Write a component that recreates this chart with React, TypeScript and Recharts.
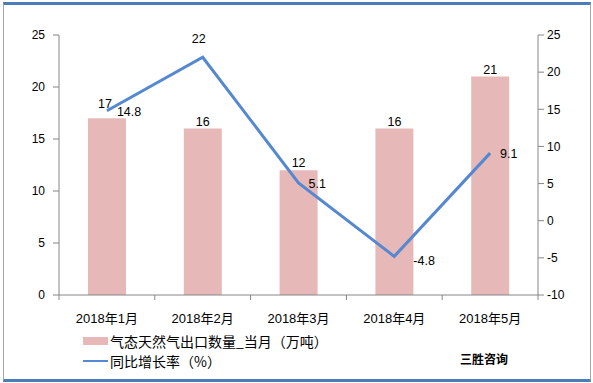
import React from 'react';
import { ComposedChart, Bar, Line, XAxis, YAxis, Legend, LabelList } from 'recharts';

const categories = ['2018年1月', '2018年2月', '2018年3月', '2018年4月', '2018年5月'];
const exportVolume = [17, 16, 12, 16, 21];
const yoyGrowth = [14.8, 22, 5.1, -4.8, 9.1];
const leftTicks = [0, 5, 10, 15, 20, 25];
const rightTicks = [-10, -5, 0, 5, 10, 15, 20, 25];
const seriesNames = ['气态天然气出口数量_当月（万吨）', '同比增长率（%）'];
const brandText = '三胜咨询';

const data = categories.map((c, i) => ({ name: c, volume: exportVolume[i], growth: yoyGrowth[i] }));

const W = 593;
const H = 383;
const LEFT_W = 59;
const RIGHT_W = 55;
const BAR_COLOR = '#E6B9B8';
const LINE_COLOR = '#5588D0';
const AXIS_COLOR = '#868686';
const NUM_FONT = "'Liberation Sans', Arial, sans-serif";
const CJK_FONT = "'Liberation Sans', 'Noto Sans CJK SC', sans-serif";
const BAND = (W - LEFT_W - RIGHT_W) / categories.length;

// label placement styles (style, not data)
const LINE_LABEL_POS = ['right', 'top', 'right', 'rightLow', 'right'];
const BAR_LABEL_LIFT = ['lifted', 'normal', 'normal', 'normal', 'normal'];

const XTick = (props: any) => {
  const { x, y, payload } = props;
  const idx = payload.index;
  return (
    <g>
      {idx === 0 && <line x1={x - BAND / 2} y1={y} x2={x - BAND / 2} y2={y + 5} stroke={AXIS_COLOR} />}
      <line x1={x + BAND / 2} y1={y} x2={x + BAND / 2} y2={y + 5} stroke={AXIS_COLOR} />
      <text x={x} y={y + 23} textAnchor="middle" dominantBaseline="central" fontSize={13} fontFamily={CJK_FONT} fill="#000">
        {payload.value}
      </text>
    </g>
  );
};

const BarLabel = (props: any) => {
  const { x, y, width, value, index } = props;
  const lifted = BAR_LABEL_LIFT[index] === 'lifted';
  const cx = x + width / 2 + (lifted ? -2 : 0);
  const cy = y - (lifted ? 14 : 7);
  return (
    <text x={cx} y={cy} textAnchor="middle" dominantBaseline="central" fontSize={12.5} fontFamily={NUM_FONT} fill="#000">
      {value}
    </text>
  );
};

const LineLabel = (props: any) => {
  const { x, y, value, index } = props;
  const pos = LINE_LABEL_POS[index];
  let tx = x + 10;
  let ty = y + 1;
  let anchor: any = 'start';
  if (pos === 'top') {
    tx = x - 4;
    ty = y - 18;
    anchor = 'middle';
  } else if (pos === 'rightLow') {
    tx = x + 19;
    ty = y + 5;
  }
  return (
    <text x={tx} y={ty} textAnchor={anchor} dominantBaseline="central" fontSize={12.5} fontFamily={NUM_FONT} fill="#000">
      {value}
    </text>
  );
};

const LegendContent = () => (
  <div style={{ height: 40, fontFamily: "'Noto Sans CJK SC', sans-serif", fontSize: 14, color: '#000' }}>
    <div style={{ display: 'flex', alignItems: 'center', height: 20 }}>
      <div style={{ width: 25, height: 8, background: BAR_COLOR, marginRight: 2 }} />
      <span style={{ lineHeight: '20px' }}>{seriesNames[0]}</span>
    </div>
    <div style={{ display: 'flex', alignItems: 'center', height: 20 }}>
      <div style={{ width: 25, height: 2, background: LINE_COLOR, marginRight: 2 }} />
      <span style={{ lineHeight: '20px' }}>{seriesNames[1]}</span>
    </div>
  </div>
);

export default function App() {
  return (
    <div style={{ position: 'absolute', left: 0, top: 0, width: W, height: H, background: '#fff' }}>
      <div
        style={{
          position: 'absolute',
          left: 3,
          top: 2,
          width: 586,
          height: 374,
          borderLeft: '1px solid #a6a6a6',
          borderRight: '1px solid #a6a6a6',
          borderTop: '3px solid #4A7EBB',
          borderBottom: '3px solid #4A7EBB',
        }}
      />
      <ComposedChart width={W} height={H} data={data} margin={{ top: 35, right: 0, bottom: 12, left: 0 }}>
        <XAxis
          dataKey="name"
          xAxisId="x"
          height={36}
          axisLine={{ stroke: AXIS_COLOR }}
          tickLine={false}
          tickSize={0}
          tickMargin={0}
          tick={<XTick />}
          interval={0}
        />
        <YAxis
          yAxisId="left"
          orientation="left"
          width={LEFT_W}
          domain={[0, 25]}
          ticks={leftTicks}
          axisLine={{ stroke: AXIS_COLOR }}
          tickLine={{ stroke: AXIS_COLOR }}
          tickSize={6}
          tickMargin={8}
          tick={{ fill: '#000', fontSize: 12, fontFamily: NUM_FONT }}
        />
        <YAxis
          yAxisId="right"
          orientation="right"
          width={RIGHT_W}
          domain={[-10, 25]}
          ticks={rightTicks}
          axisLine={{ stroke: AXIS_COLOR }}
          tickLine={{ stroke: AXIS_COLOR }}
          tickSize={6}
          tickMargin={3}
          tick={{ fill: '#000', fontSize: 12, fontFamily: NUM_FONT }}
        />
        <Legend verticalAlign="bottom" align="left" layout="horizontal" content={<LegendContent />} wrapperStyle={{ left: 83, width: 320, height: 40 }} />
        <Bar xAxisId="x" yAxisId="left" dataKey="volume" name={seriesNames[0]} fill={BAR_COLOR} barSize={38} isAnimationActive={false}>
          <LabelList dataKey="volume" content={(p: any) => <BarLabel {...p} />} />
        </Bar>
        <Line
          xAxisId="x"
          yAxisId="right"
          dataKey="growth"
          name={seriesNames[1]}
          stroke={LINE_COLOR}
          strokeWidth={3}
          dot={false}
          activeDot={false}
          isAnimationActive={false}
          label={(p: any) => <LineLabel key={p.index} {...p} />}
        />
      </ComposedChart>
      <div
        style={{
          position: 'absolute',
          left: 460,
          top: 351,
          fontSize: 12,
          fontWeight: 'bold',
          fontFamily: "'Noto Sans CJK SC', sans-serif",
          color: '#000',
          lineHeight: '16px',
        }}
      >
        {brandText}
      </div>
    </div>
  );
}
